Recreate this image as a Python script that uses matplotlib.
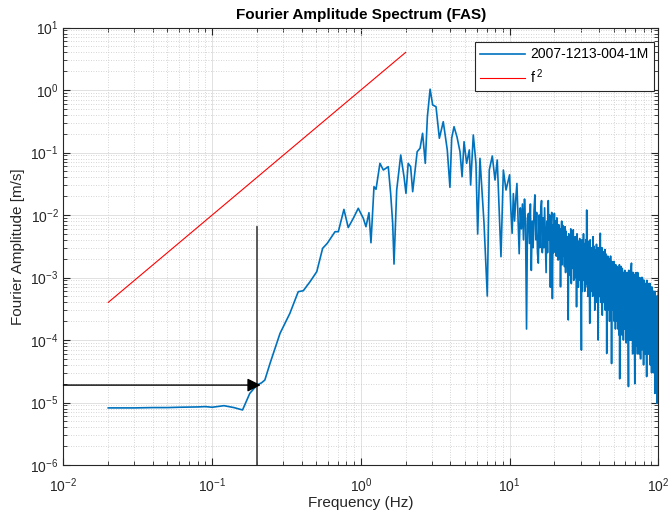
import numpy as np
import matplotlib
matplotlib.use('Agg')
import matplotlib.pyplot as plt

plt.rcParams['font.family'] = ['Liberation Sans', 'DejaVu Sans']
plt.rcParams['mathtext.fontset'] = 'custom'
plt.rcParams['mathtext.rm'] = 'Liberation Sans'
plt.rcParams['mathtext.default'] = 'regular'

# FAS record (Hz, m/s)
freq_low = [0.02, 0.03, 0.04, 0.05, 0.06, 0.08, 0.09, 0.10, 0.12, 0.14, 0.16, 0.179, 0.20,
            0.215, 0.226, 0.245, 0.286, 0.333, 0.379, 0.41, 0.455, 0.505, 0.553, 0.594,
            0.67, 0.705, 0.769, 0.822, 0.889, 0.96]
amp_low = [8.2e-6, 8.2e-6, 8.3e-6, 8.3e-6, 8.4e-6, 8.5e-6, 8.6e-6, 8.4e-6, 8.9e-6, 8.3e-6,
           7.6e-6, 1.4e-5, 1.9e-5, 2.07e-5, 2.29e-5, 4.24e-5, 1.28e-4, 2.67e-4, 5.93e-4,
           6.15e-4, 8.57e-4, 1.24e-3, 2.93e-3, 3.52e-3, 5.41e-3, 5.41e-3, 1.23e-2, 6.3e-3,
           8.85e-3, 1.28e-2]

freq_mid = [1.038, 1.082, 1.133, 1.169, 1.225, 1.264, 1.343, 1.415, 1.528, 1.585, 1.636,
            1.670, 1.741, 1.853, 1.95, 2.01, 2.08, 2.16, 2.23, 2.39, 2.50, 2.60, 2.71, 2.80,
            2.92, 3.04, 3.20, 3.37, 3.58, 3.81, 3.97, 4.08, 4.23, 4.43, 4.64, 4.79, 4.94,
            5.14, 5.36, 5.47, 5.70, 5.94, 6.10, 6.32, 6.73, 7.08, 7.30, 7.65, 7.98, 8.26,
            8.75, 9.08, 9.46]
amp_mid = [8.85e-3, 6.5e-3, 1.09e-2, 3.6e-3, 2.84e-2, 2.58e-2, 6.71e-2, 5.25e-2, 5.93e-2,
           2.22e-2, 7.36e-3, 1.64e-3, 2.51e-2, 9.12e-2, 4.1e-2, 2.22e-2, 6.71e-2, 5.93e-2,
           2.36e-2, 0.103, 0.117, 0.203, 6.71e-2, 0.374, 1.03, 0.575, 0.541, 0.169, 0.311,
           0.110, 2.77e-2, 0.17, 0.259, 0.177, 0.103, 4.1e-2, 0.149,
           6.71e-2, 0.110, 3.02e-2, 0.191, 6.71e-2, 4.97e-3, 8.07e-2, 7.36e-3, 5.06e-4,
           5.25e-2, 8.79e-2, 3.63e-2, 7.59e-2, 2.15e-3, 5.25e-2, 2.51e-2]

freq_10_20 = [10.0, 10.2, 10.4, 10.6, 10.8, 11.0, 11.2, 11.4, 11.6, 11.8,
              12.0, 12.2, 12.4, 12.6, 12.8, 13.0, 13.2, 13.4, 13.6, 13.8,
              14.0, 14.2, 14.4, 14.6, 14.8, 15.0, 15.2, 15.4, 15.6, 15.8,
              16.0, 16.2, 16.4, 16.6, 16.8, 17.0, 17.2, 17.4, 17.6, 17.8,
              18.0, 18.2, 18.4, 18.6, 18.8, 19.0, 19.2, 19.4, 19.6, 19.8]
amp_10_20 = [4.4e-2, 1.2e-2, 5.1e-3, 2.2e-2, 8e-3, 1.8e-2, 3.2e-2, 9e-3, 2.4e-3, 1.3e-2,
             6e-3, 1.5e-2, 4e-3, 1.8e-2, 7e-3, 1.5e-4, 9e-3, 1.06e-2, 3.5e-3, 1.5e-2,
             1.3e-3, 8e-3, 3e-3, 1.2e-2, 2.1e-2, 4e-3, 1.1e-2, 2.5e-3, 1.7e-3, 1e-2,
             3e-3, 1.2e-2, 1.7e-2, 2.5e-3, 9e-3, 3e-3, 1.3e-2, 4e-3, 1.2e-3, 8e-3,
             2.5e-3, 1.7e-2, 4e-3, 1e-2, 7e-4, 6e-3, 1.1e-2, 4.6e-4, 7e-3, 2.5e-3]

freq_20_40 = [20.0, 20.2, 20.4, 20.6, 20.8, 21.0, 21.2, 21.4, 21.6, 21.8,
              22.0, 22.2, 22.4, 22.6, 22.8, 23.0, 23.2, 23.4, 23.6, 23.8,
              24.0, 24.2, 24.4, 24.6, 24.8, 25.0, 25.2, 25.4, 25.6, 25.8,
              26.0, 26.2, 26.4, 26.6, 26.8, 27.0, 27.2, 27.4, 27.6, 27.8,
              28.0, 28.2, 28.4, 28.6, 28.8, 29.0, 29.2, 29.4, 29.6, 29.8,
              30.0, 30.2, 30.4, 30.6, 30.8, 31.0, 31.2, 31.4, 31.6, 31.8,
              32.0, 32.2, 32.4, 32.6, 32.8, 33.0, 33.2, 33.4, 33.6, 33.8,
              34.0, 34.2, 34.4, 34.6, 34.8, 35.0, 35.2, 35.4, 35.6, 35.8,
              36.0, 36.2, 36.4, 36.6, 36.8, 37.0, 37.2, 37.4, 37.6, 37.8,
              38.0, 38.2, 38.4, 38.6, 38.8, 39.0, 39.2, 39.4, 39.6, 39.8]
amp_20_40 = [1.06e-2, 3e-3, 8e-3, 2.2e-3, 9e-3, 2.5e-3, 1.9e-3, 7e-3, 2e-3, 6e-3,
             7.1e-4, 5e-3, 8e-3, 1.6e-3, 6.8e-3, 2.2e-3, 5e-3, 1.5e-3, 6.5e-3, 1.2e-3,
             5.5e-3, 1.8e-3, 4.5e-3, 1.4e-3, 2.1e-4, 5e-3, 1.1e-3, 4e-3, 1.8e-3, 6e-3,
             8e-4, 4.5e-3, 1.4e-3, 3.5e-3, 5.8e-3, 9e-4, 4e-3, 1.3e-3, 4.5e-3, 1e-3,
             3.5e-3, 3.4e-4, 5e-3, 9e-4, 3.5e-3, 7e-4, 3.8e-3, 1.1e-3, 4.2e-3, 9e-4,
             3e-3, 1e-3, 6.9e-5, 4e-3, 6e-4, 3.2e-3, 9e-4, 5e-3, 1.1e-3, 3e-3,
             6e-4, 3.5e-3, 7e-4, 4e-3, 8e-4, 1.2e-2, 8e-4, 3e-3, 5e-4, 3.8e-3,
             6e-4, 2.8e-3, 7e-4, 1.85e-4, 4e-3, 8e-4, 3e-3, 6e-4, 2.6e-3, 8e-4,
             3e-3, 5e-4, 4.5e-3, 9e-4, 3.2e-3, 7e-4, 2.8e-3, 3e-4, 2.4e-3, 6e-4,
             2.5e-3, 4e-4, 3.4e-3, 6e-4, 2.2e-3, 4e-4, 2.6e-3, 1e-4, 3e-3, 5e-4]

freq_40_70 = [40.0, 40.25, 40.5, 40.75, 41.0, 41.25, 41.5, 41.75, 42.0, 42.25,
              42.5, 42.75, 43.0, 43.25, 43.5, 43.75, 44.0, 44.25, 44.5, 44.75,
              45.0, 45.25, 45.5, 45.75, 46.0, 46.25, 46.5, 46.75, 47.0, 47.25,
              47.5, 47.75, 48.0, 48.25, 48.5, 48.75, 49.0, 49.25, 49.5, 49.75,
              50.0, 50.25, 50.5, 50.75, 51.0, 51.25, 51.5, 51.75, 52.0, 52.25,
              52.5, 52.75, 53.0, 53.25, 53.5, 53.75, 54.0, 54.25, 54.5, 54.75,
              55.0, 55.25, 55.5, 55.75, 56.0, 56.25, 56.5, 56.75, 57.0, 57.25,
              57.5, 57.75, 58.0, 58.25, 58.5, 58.75, 59.0, 59.25, 59.5, 59.75,
              60.0, 60.25, 60.5, 60.75, 61.0, 61.25, 61.5, 61.75, 62.0, 62.25,
              62.5, 62.75, 63.0, 63.25, 63.5, 63.75, 64.0, 64.25, 64.5, 64.75,
              65.0, 65.25, 65.5, 65.75, 66.0, 66.25, 66.5, 66.75, 67.0, 67.25,
              67.5, 67.75, 68.0, 68.25, 68.5, 68.75, 69.0, 69.25, 69.5, 69.75]
amp_40_70 = [2.8e-3, 5e-4, 3.5e-3, 5.1e-3, 4e-4, 2.5e-3, 6e-4, 3e-3, 2.5e-4, 2.2e-3,
             6e-4, 2.6e-3, 4e-4, 2.2e-3, 6e-4, 2.8e-3, 3e-4, 2.4e-3, 5e-4, 2e-3,
             6.1e-5, 2e-3, 4e-4, 2.2e-3, 3e-4, 1.8e-3, 5e-4, 2e-3, 2e-4, 1.6e-3,
             4e-4, 2.2e-3, 3e-4, 1.5e-3, 4.2e-5, 1.8e-3, 3e-4, 1.2e-3, 4e-4, 1.6e-3,
             3e-4, 1.8e-3, 2e-4, 1.4e-3, 4e-4, 1.3e-3, 1.5e-4, 1.6e-3, 3e-4, 1.5e-3,
             2e-4, 1.5e-3, 3e-4, 1.2e-3, 1.5e-4, 1.4e-3, 3e-4, 1.2e-3, 1.2e-4, 1.6e-3,
             2.4e-5, 1.3e-3, 2.5e-4, 1.1e-3, 1.5e-4, 1.5e-3, 3e-4, 1.2e-3, 1.2e-4, 1.4e-3,
             2e-4, 1.1e-3, 8e-4, 1e-4, 1.2e-3, 2e-4, 1.2e-3, 1.5e-4, 1.3e-3, 2.5e-4,
             1.1e-3, 2e-4, 1.2e-3, 9e-5, 1e-3, 1.5e-4, 1.2e-3, 1e-4, 1.1e-3, 2e-4,
             1e-3, 1.5e-4, 1.8e-5, 1.3e-3, 1e-4, 9e-4, 2e-4, 1.1e-3, 1e-4, 1.3e-3,
             1.2e-4, 1.2e-3, 1e-4, 1.5e-3, 1.7e-3, 1e-4, 1.1e-3, 1.5e-4, 1.2e-3, 6e-5,
             1e-3, 1.5e-4, 1.2e-3, 8e-5, 9e-4, 1.5e-4, 1.1e-3, 6e-5, 2e-5, 9e-4]

freq_70_100 = [70.0, 70.3, 70.6, 70.9, 71.2, 71.5, 71.8, 72.1, 72.4, 72.7,
               73.0, 73.3, 73.6, 73.9, 74.2, 74.5, 74.8, 75.1, 75.4, 75.7,
               76.0, 76.3, 76.6, 76.9, 77.2, 77.5, 77.8, 78.1, 78.4, 78.7,
               79.0, 79.3, 79.6, 79.9, 80.2, 80.5, 80.8, 81.1, 81.4, 81.7,
               82.0, 82.3, 82.6, 82.9, 83.2, 83.5, 83.8, 84.1, 84.4, 84.7,
               85.0, 85.3, 85.6, 85.9, 86.2, 86.5, 86.8, 87.1, 87.4, 87.7,
               88.0, 88.3, 88.6, 88.9, 89.2, 89.5, 89.8, 90.1, 90.4, 90.7,
               91.0, 91.3, 91.6, 91.9, 92.2, 92.5, 92.8, 93.1, 93.4, 93.7,
               94.0, 94.3, 94.6, 94.9, 95.2, 95.5, 95.8, 96.1, 96.4, 96.7,
               97.0, 97.3, 97.6, 97.9, 98.2, 98.5, 98.8, 99.1, 99.4, 99.7,
               100.0]
amp_70_100 = [1e-3, 1e-4, 8e-5, 1.2e-3, 1.5e-4, 9e-4, 1e-4, 1.1e-3, 6e-5, 1.2e-3,
              1.2e-4, 1e-3, 1.5e-4, 8e-4, 6e-5, 1e-3, 9.1e-4, 1e-4, 9e-4, 1.2e-4,
              5e-5, 9e-4, 1e-4, 1e-3, 1.2e-4, 8e-4, 7e-5, 1e-3, 1e-4, 8e-4,
              1e-4, 9e-4, 4e-5, 8e-4, 1e-4, 9e-4, 6e-5, 8e-4, 1e-4, 7e-4,
              6e-5, 8e-4, 9e-5, 7e-4, 1e-4, 2.6e-5, 9e-4, 8e-5, 8e-4, 6e-5,
              7e-4, 1e-4, 8e-4, 6e-5, 6e-4, 8e-5, 7e-4, 6e-5, 8e-4, 5e-5,
              8e-4, 4e-5, 7e-4, 8e-5, 6e-4, 5e-5, 7e-4, 3e-5, 6e-4, 6e-5,
              7e-4, 6e-5, 5e-4, 4e-5, 6e-4, 3e-5, 5e-4, 6e-5, 6e-4, 4e-5,
              5e-4, 5e-5, 4e-4, 1.4e-5, 6e-4, 4e-5, 5e-4, 3e-5, 5e-4, 4e-5,
              4e-4, 3e-5, 5e-4, 2e-5, 9.7e-6, 4e-4, 3e-5, 5e-4, 2e-5, 4e-4,
              6.3e-4]

# f^2 reference line
ref_freq = [0.02, 2.0]
ref_amp = [4e-4, 4.0]

# marker for the 0.2 Hz pick
pick_freq = 0.2
pick_amp = 1.9e-5
pick_top = 6.5e-3

freq = freq_low + freq_mid + freq_10_20 + freq_20_40 + freq_40_70 + freq_70_100
amp = amp_low + amp_mid + amp_10_20 + amp_20_40 + amp_40_70 + amp_70_100

fig = plt.figure(figsize=(6.69, 5.16), dpi=100)
ax = fig.add_axes([0.0949, 0.0988, 0.8891, 0.8479])

ax.loglog(freq, amp, color='#0072BD', linewidth=1.2, label='2007-1213-004-1M')
ax.loglog(ref_freq, ref_amp, color='#FF0000', linewidth=0.8, label=r'$\mathrm{f}^{\;2}$')

ax.plot([pick_freq, pick_freq], [1e-6, pick_top], color='#4D4D4D', linewidth=1.3)
ax.annotate('', xy=(pick_freq * 1.06, pick_amp), xytext=(0.01, pick_amp),
            arrowprops=dict(arrowstyle='-|>', color='black', lw=1.0, mutation_scale=20,
                            shrinkA=0, shrinkB=0))

ax.set_xlim(1e-2, 1e2)
ax.set_ylim(1e-6, 1e1)
ax.grid(True, which='major', color='#DCDCDC', linewidth=0.6, linestyle='-')
ax.grid(True, which='minor', color='#C8C8C8', linewidth=0.6, linestyle=(0, (1, 2)))
ax.set_axisbelow(True)
ax.tick_params(which='both', direction='in', top=True, right=True, colors='#262626',
               labelsize=10)
ax.tick_params(which='major', length=5)
ax.tick_params(which='minor', length=3)
ax.tick_params(axis='x', which='major', pad=8)
for s in ax.spines.values():
    s.set_color('#262626')
    s.set_linewidth(0.8)

ax.set_title('Fourier Amplitude Spectrum (FAS)', fontsize=11, fontweight='bold', pad=6)
ax.set_xlabel('Frequency (Hz)', fontsize=11, color='#262626', labelpad=1)
ax.set_ylabel('Fourier Amplitude [m/s]', fontsize=11, color='#262626')

leg = ax.legend(loc='upper right', bbox_to_anchor=(0.993, 0.967), borderaxespad=0,
                fontsize=10, fancybox=False, edgecolor='#262626', framealpha=1,
                handlelength=3.2, handletextpad=0.4, borderpad=0.4, labelspacing=0.4)
leg.get_frame().set_linewidth(0.8)

plt.savefig('out.png', dpi=100)
